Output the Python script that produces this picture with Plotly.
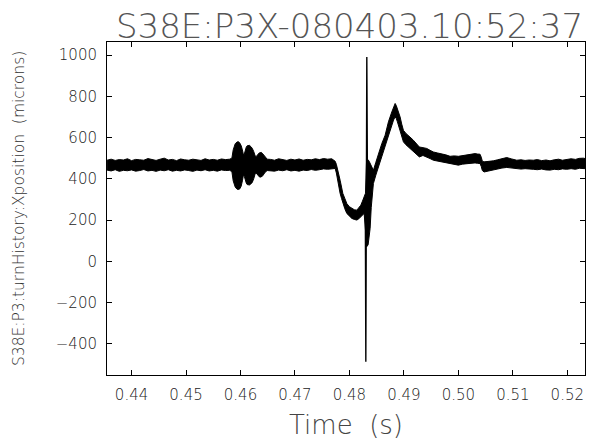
import plotly.graph_objects as go

# ---- data (envelope of the noisy trace) ----
T = [0.43550,0.43625,0.43700,0.43775,0.43850,0.43925,0.44000,0.44075,0.44150,0.44225,
     0.44300,0.44375,0.44450,0.44525,0.44600,0.44675,0.44750,0.44825,0.44900,0.44975,
     0.45050,0.45125,0.45200,0.45275,0.45350,0.45425,0.45500,0.45575,0.45650,0.45725,0.45800,
     0.45842,0.45866,0.45903,0.45935,0.45963,0.45990,0.46013,0.46035,0.46055,0.46070,
     0.46086,0.46105,0.46123,0.46145,0.46165,0.46190,0.46215,0.46243,0.46270,0.46288,
     0.46306,0.46325,0.46343,0.46362,0.46380,0.46400,0.46417,0.46435,0.46453,0.46490,
     0.46550,0.46625,0.46700,0.46775,0.46850,0.46925,0.47000,0.47075,0.47150,0.47225,
     0.47300,0.47375,0.47450,0.47525,0.47600,0.47675,
     0.47738,0.47760,0.47780,0.47805,0.47829,0.47855,0.47879,0.47915,0.47952,0.47998,
     0.48044,0.48090,0.48136,0.48172,0.48209,0.48240,0.48270,0.48295,0.48315,0.48343,
     0.48362,0.48380,0.48400,0.48417,0.48440,
     0.48485,0.48532,0.48595,0.48655,0.48716,0.48778,0.48810,0.48839,0.48860,0.48881,
     0.48905,0.48930,0.48960,0.48991,0.49037,0.49083,0.49130,0.49174,0.49230,0.49284,
     0.49350,0.49420,0.49480,0.49541,0.49620,0.49695,0.49770,0.49848,0.49925,0.50000,
     0.50077,0.50154,0.50230,0.50306,0.50350,0.50398,0.50420,0.50440,0.50472,0.50550,
     0.50642,0.50720,0.50800,0.50888,0.50980,0.51072,0.51150,0.51225,0.51300,0.51376,
     0.51450,0.51530,0.51610,0.51683,0.51760,0.51840,0.51910,0.51989,0.52070,0.52150,
     0.52220,0.52294,0.52330]

UPPER = [490,495,489,493,491,497,488,494,492,490,498,493,489,495,500,491,494,488,496,492,
         490,495,493,489,497,491,494,490,496,493,495,
         500,540,570,578,580,572,560,540,515,520,
         540,553,560,563,562,556,548,532,510,508,
         515,522,525,527,528,524,518,510,503,495,
         494,490,497,492,489,495,491,496,490,494,492,497,493,498,495,497,
         485,470,442,420,393,360,329,305,280,265,
         256,250,248,258,272,292,312,330,490,492,
         485,475,460,450,441,
         480,522,571,611,676,724,748,765,755,740,
         722,700,665,635,620,611,598,587,570,554,
         551,547,538,530,525,522,516,509,511,509,
         512,514,518,522,520,519,505,485,482,484,
         487,492,498,503,496,490,492,489,491,490,
         493,488,491,487,492,495,490,495,497,494,
         499,500,498]

LOWER = [442,438,444,436,441,439,443,437,440,445,438,441,436,442,439,444,437,441,438,443,
         440,436,442,439,444,438,441,437,443,440,441,
         435,390,360,350,348,352,365,390,420,412,
         395,380,372,369,370,375,382,400,425,428,
         422,413,410,408,409,412,418,425,432,440,
         440,437,442,439,444,438,441,437,442,440,445,441,444,448,446,449,
         450,428,393,362,329,305,280,255,232,218,
         208,203,200,206,215,225,232,150,70,80,
         110,160,260,330,377,
         418,458,506,554,611,660,685,700,692,676,
         652,627,600,579,565,554,542,530,518,506,
         513,506,498,490,486,482,476,471,468,466,
         471,474,476,477,475,474,460,440,433,438,
         442,447,452,455,452,450,447,449,446,446,
         444,447,443,442,446,444,448,446,449,446,
         451,450,449]

SPIKE_T = [0.48292, 0.48301, 0.48319, 0.48330]
SPIKE_V = [250, -487, 990, 420]

TITLE = "S38E:P3X-080403.10:52:37"
XLABEL = "Time\u00a0\u00a0(s)"
YLABEL = "S38E:P3:turnHistory:Xposition\u00a0\u00a0(microns)"

FONT = "DejaVu Sans, sans-serif"

fig = go.Figure()
fig.add_trace(go.Scatter(x=T, y=UPPER, mode="lines", line=dict(color="black", width=1),
                         hoverinfo="skip", showlegend=False))
fig.add_trace(go.Scatter(x=T, y=LOWER, mode="lines", line=dict(color="black", width=1),
                         fill="tonexty", fillcolor="black", hoverinfo="skip", showlegend=False))
fig.add_trace(go.Scatter(x=SPIKE_T, y=SPIKE_V, mode="lines", line=dict(color="black", width=1.4),
                         hoverinfo="skip", showlegend=False))

axis_common = dict(showline=True, linecolor="black", linewidth=1, mirror="allticks",
                   ticks="inside", ticklen=5, tickcolor="black", tickwidth=1,
                   showgrid=False, zeroline=False,
                   tickfont=dict(family=FONT, size=15, color="#222", weight=200))

fig.update_layout(
    width=594, height=443,
    margin=dict(l=107, r=9, t=42, b=68),
    paper_bgcolor="white", plot_bgcolor="white",
    xaxis=dict(range=[0.43549, 0.52325], tickvals=[0.44,0.45,0.46,0.47,0.48,0.49,0.50,0.51,0.52],
               tickformat=".2f", ticklabelstandoff=6, **axis_common),
    yaxis=dict(range=[-551, 1063], tickvals=[-400,-200,0,200,400,600,800,1000],
               tickformat="d", ticklabelstandoff=6, **axis_common),
    annotations=[
        dict(text=TITLE, xref="paper", yref="paper", x=1.0, y=1.0, xanchor="right", yanchor="bottom",
             yshift=-6, showarrow=False, font=dict(family=FONT, size=34, color="#555", weight=200)),
        dict(text=XLABEL, xref="paper", yref="paper", x=0.5, y=-0.15, xanchor="center", yanchor="middle",
             showarrow=False, font=dict(family=FONT, size=26, color="#444", weight=200)),
        dict(text=YLABEL, xref="paper", yref="paper", x=-0.185, y=0.5, xanchor="center", yanchor="middle",
             textangle=-90, showarrow=False, font=dict(family=FONT, size=15.5, color="#333", weight=200)),
    ],
)

fig.write_html("out.html", config={"displayModeBar": False},
               post_script="document.body.style.margin='0';document.body.style.padding='0';")
